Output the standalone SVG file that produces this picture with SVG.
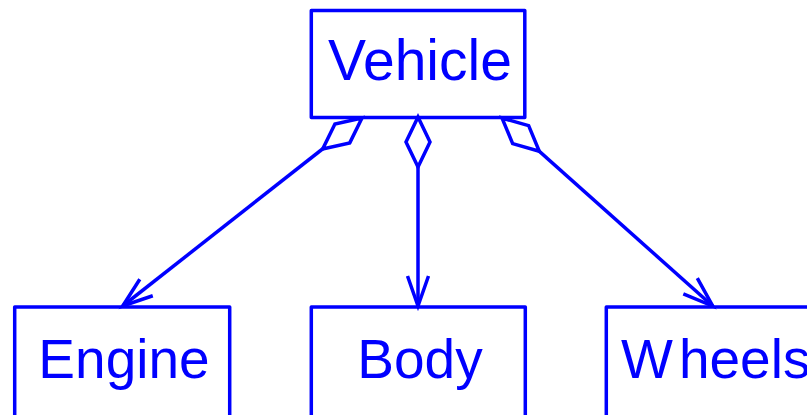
<svg xmlns="http://www.w3.org/2000/svg" width="807" height="415" viewBox="0 0 807 415">
<defs>
<style>
.box{fill:#fff;stroke:#0000ff;stroke-width:3.5;stroke-linejoin:round}
.lbl{font-family:"Liberation Sans",Arial,sans-serif;font-size:55px;fill:#0000ff}
.edge{fill:none;stroke:#0000ff;stroke-width:3.5}
</style>
<marker id="diamond" markerUnits="userSpaceOnUse" orient="auto" refX="0" refY="0" markerWidth="60" markerHeight="30" overflow="visible">
<path d="M0,0 L25,-12 L50,0 L25,12 Z" fill="#fff" stroke="#0000ff" stroke-width="3.5" stroke-linejoin="miter"/>
</marker>
<marker id="arrow" markerUnits="userSpaceOnUse" orient="auto" refX="0" refY="0" markerWidth="40" markerHeight="30" overflow="visible">
<path d="M-30,-10.5 L0,0 L-30,10.5" fill="none" stroke="#0000ff" stroke-width="3.5"/>
</marker>
</defs>
<g id="Vehicle">
<rect class="box" x="311.3" y="10.5" width="213.5" height="107"/>
<text class="lbl" x="420" y="80" text-anchor="middle" style="font-size:57px">Vehicle</text>
</g>
<g id="Engine">
<rect class="box" x="14.7" y="307" width="215" height="120"/>
<text class="lbl" x="124" y="378.3" text-anchor="middle">Engine</text>
</g>
<g id="Body">
<rect class="box" x="311.3" y="307" width="214" height="120"/>
<text class="lbl" x="420" y="378.3" text-anchor="middle">Body</text>
</g>
<g id="Wheels">
<rect class="box" x="606.3" y="307" width="214" height="120"/>
<text class="lbl" x="621" y="378.3">W<tspan dx="6">heels</tspan></text>
</g>
<g id="connectors">
<path class="edge" d="M362,118 L122.7,306" marker-start="url(#diamond)" marker-end="url(#arrow)"/>
<path class="edge" d="M418,117 L418,306" marker-start="url(#diamond)" marker-end="url(#arrow)"/>
<path class="edge" d="M502,118 L712.7,306" marker-start="url(#diamond)" marker-end="url(#arrow)"/>
</g>
</svg>
